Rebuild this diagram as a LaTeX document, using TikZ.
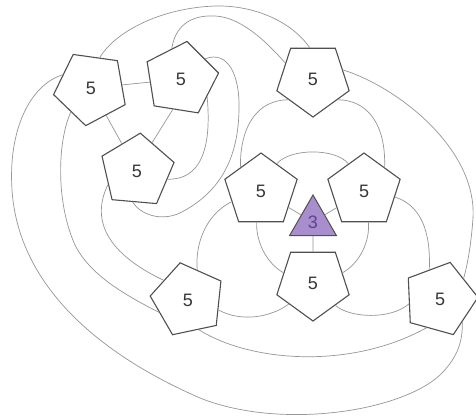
\documentclass[tikz,border=0pt]{standalone}
\usepackage{fontspec}
\setsansfont{Liberation Sans}
\usetikzlibrary{shapes.geometric}
\definecolor{aristagris}{RGB}{150,150,150}
\definecolor{bordegris}{RGB}{80,80,80}
\definecolor{textogris}{RGB}{55,55,55}
\definecolor{lila}{RGB}{168,142,204}
\definecolor{lilaosc}{RGB}{95,65,145}
\begin{document}
\begin{tikzpicture}[x=1pt,y=-1pt,
  penta/.style={regular polygon,regular polygon sides=5,minimum size=76pt,inner sep=0pt,
    draw=bordegris,line width=1.1pt,fill=white,text=textogris,
    font=\sffamily\fontsize{18}{20}\selectfont},
  tri/.style={regular polygon,regular polygon sides=3,minimum size=54pt,inner sep=0pt,
    draw=bordegris,line width=1pt,fill=lila,text=lilaosc,
    font=\sffamily\fontsize{18}{20}\selectfont},
  arista/.style={draw=aristagris,line width=0.7pt}]
  \useasboundingbox[fill=white] (0,0) rectangle (476,416);

  % Vértices
  \node[penta,shape border rotate=28] (p1) at (91,88) {5};
  \node[penta,shape border rotate=-9] (p2) at (181,79) {5};
  \node[penta,shape border rotate=-5] (p3) at (137,171) {5};
  \node[penta,shape border rotate=180] (p4) at (313,79) {5};
  \node[penta] (p5) at (261,191) {5};
  \node[penta] (p6) at (364,191) {5};
  \node[tri] (t) at (313,222) {3};
  \node[penta,shape border rotate=180] (p7) at (313,283) {5};
  \node[penta,shape border rotate=12] (p8) at (188,300) {5};
  \node[penta,shape border rotate=-15.5] (p9) at (440,299) {5};

  % Aristas rectas
  \foreach \desde/\hasta in {p1/p2, p1/p3, t/p5, t/p6, t/p7}
    \draw[arista] (\desde) -- (\hasta);
  \draw[arista] (p2.255) -- (p3.62);

  % Aristas curvas (grupo de arriba)
  \draw[arista] (p1.74) .. controls (115,32) and (160,8) .. (215,6)
    .. controls (255,5) and (292,22) .. (p4.96);
  \draw[arista] (p2.107) .. controls (176,22) and (195,15) .. (215,16)
    .. controls (240,17) and (265,40) .. (p4.150);
  \draw[arista] (p2.40) .. controls (228,50) and (240,75) .. (239,110)
    .. controls (238,165) and (215,195) .. (180,213)
    .. controls (160,222) and (140,214) .. (p3.-98);
  \draw[arista] (p2.-34) .. controls (212,150) and (200,180) .. (p3.-15);
  \draw[arista] (p4.17) .. controls (400,88) and (477,150) .. (473,218)
    .. controls (471,245) and (468,262) .. (p9.41);

  % Aristas curvas (alrededor del triángulo)
  \draw[arista] (p4.220) .. controls (258,100) and (240,125) .. (p5.131);
  \draw[arista] (p4.-40) .. controls (368,100) and (386,125) .. (p6.49);
  \draw[arista] (p5.60) .. controls (290,148) and (336,148) .. (p6.120);
  \draw[arista] (p5.-98) .. controls (256,240) and (265,262) .. (p7.161);
  \draw[arista] (p6.-82) .. controls (370,240) and (361,262) .. (p7.19);
  \draw[arista] (p6.-11) .. controls (420,205) and (431,230) .. (p9.110);
  \draw[arista] (p7.-45) .. controls (350,318) and (390,320) .. (p9.189);

  % Aristas curvas (abajo e izquierda)
  \draw[arista] (p5.200) .. controls (205,215) and (195,245) .. (p8.73);
  \draw[arista] (p8.-18) .. controls (240,322) and (270,318) .. (p7.221);
  \draw[arista] (p3.205) .. controls (93,215) and (100,250) .. (p8.141);
  \draw[arista] (p1.230) .. controls (58,140) and (55,200) .. (75,245)
    .. controls (90,275) and (125,295) .. (p8.203);
  \draw[arista] (p8.-70) .. controls (250,362) and (350,370) .. (p9.-115);
  \draw[arista] (p1.155) .. controls (30,85) and (8,130) .. (12,190)
    .. controls (18,280) and (90,350) .. (200,398)
    .. controls (280,430) and (400,412) .. (440,375)
    .. controls (455,360) and (463,345) .. (p9.-46);
\end{tikzpicture}
\end{document}
